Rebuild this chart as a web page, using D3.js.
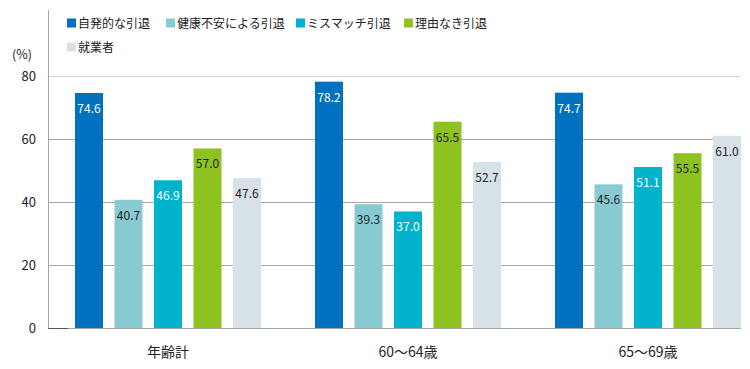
<!DOCTYPE html>
<html>
<head>
<meta charset="utf-8">
<script src="https://cdn.jsdelivr.net/npm/d3@7"></script>
<style>
  html, body { margin: 0; padding: 0; background: #fff; }
  svg { display: block; font-family: "Noto Sans CJK JP", "Noto Sans", sans-serif; }
</style>
</head>
<body>
<div id="chart"></div>
<script>
// categories and series
const categories = ["年齢計", "60〜64歳", "65〜69歳"];
const seriesNames = ["自発的な引退", "健康不安による引退", "ミスマッチ引退", "理由なき引退", "就業者"];
const seriesColors = ["#0071bf", "#88cad1", "#00b2cc", "#8dc220", "#d6e1e8"];
const labelColors = ["#fff", "#222", "#fff", "#222", "#222"];
// values[series][category]
const values = [
  [74.6, 78.2, 74.7],
  [40.7, 39.3, 45.6],
  [46.9, 37.0, 51.1],
  [57.0, 65.5, 55.5],
  [47.6, 52.7, 61.0]
];
const yTicks = [0, 20, 40, 60, 80];

const width = 750, height = 369;
const plotLeft = 48, plotRight = 741, plotTop = 10;

const svg = d3.select("#chart").append("svg")
  .attr("width", width)
  .attr("height", height);

// scales
const y = d3.scaleLinear().domain([0, 80]).range([328, 76]);
const x0 = d3.scaleBand().domain(categories).range([plotLeft, plotLeft + 720]);
const x1 = d3.scaleBand().domain(seriesNames).range([27, 213]).paddingInner(0.291).paddingOuter(0);

// gridlines
svg.append("g")
  .selectAll("line")
  .data(yTicks)
  .join("line")
  .attr("x1", plotLeft)
  .attr("x2", plotRight)
  .attr("y1", d => Math.round(y(d)) + 0.5)
  .attr("y2", d => Math.round(y(d)) + 0.5)
  .attr("stroke", d => d === 80 ? "#d4d4d4" : "#a6a6a6")
  .attr("stroke-width", 1);

// short dark stub on the baseline
svg.append("line")
  .attr("x1", plotLeft).attr("x2", plotLeft + 20)
  .attr("y1", Math.round(y(0)) + 0.5).attr("y2", Math.round(y(0)) + 0.5)
  .attr("stroke", "#555");

// y axis line
svg.append("line")
  .attr("x1", plotLeft + 0.5).attr("x2", plotLeft + 0.5)
  .attr("y1", plotTop).attr("y2", Math.round(y(0)) + 0.5)
  .attr("stroke", "#a6a6a6");

// tick labels
svg.append("g")
  .selectAll("text")
  .data(yTicks)
  .join("text")
  .attr("x", 36)
  .attr("y", d => y(d))
  .attr("dy", "0.35em")
  .attr("text-anchor", "end")
  .attr("font-size", 13)
  .attr("fill", "#222")
  .text(d => d);

svg.append("text")
  .attr("x", 12)
  .attr("y", 59)
  .attr("font-size", 12.5)
  .attr("fill", "#222")
  .text("(%)");

// bars
const groups = svg.append("g")
  .selectAll("g")
  .data(categories)
  .join("g")
  .attr("transform", d => `translate(${x0(d)},0)`);

const cells = groups.selectAll("g")
  .data((c, ci) => seriesNames.map((s, si) => ({ s, si, v: values[si][ci] })))
  .join("g");

cells.append("rect")
  .attr("x", d => x1(d.s))
  .attr("width", x1.bandwidth())
  .attr("y", d => y(d.v))
  .attr("height", d => y(0) - y(d.v))
  .attr("fill", d => seriesColors[d.si]);

cells.append("text")
  .attr("x", d => x1(d.s) + x1.bandwidth() / 2)
  .attr("y", d => y(d.v) + 20)
  .attr("text-anchor", "middle")
  .attr("font-size", 12)
  .attr("fill", d => labelColors[d.si])
  .text(d => d.v.toFixed(1));

// category labels
svg.append("g")
  .selectAll("text")
  .data(categories)
  .join("text")
  .attr("x", d => x0(d) + 120)
  .attr("y", 357)
  .attr("text-anchor", "middle")
  .attr("font-size", 14)
  .attr("fill", "#222")
  .text(d => d);

// legend
const legendPos = [[67, 23], [166, 23], [296, 23], [404, 23], [67, 47]];
const legend = svg.append("g")
  .selectAll("g")
  .data(seriesNames)
  .join("g")
  .attr("transform", (d, i) => `translate(${legendPos[i][0]},${legendPos[i][1]})`);

legend.append("rect")
  .attr("x", 0).attr("y", -4.5)
  .attr("width", 9).attr("height", 9)
  .attr("fill", (d, i) => seriesColors[i]);

legend.append("text")
  .attr("x", 11)
  .attr("dy", "0.38em")
  .attr("font-size", 12)
  .attr("fill", "#222")
  .text(d => d);
</script>
</body>
</html>
